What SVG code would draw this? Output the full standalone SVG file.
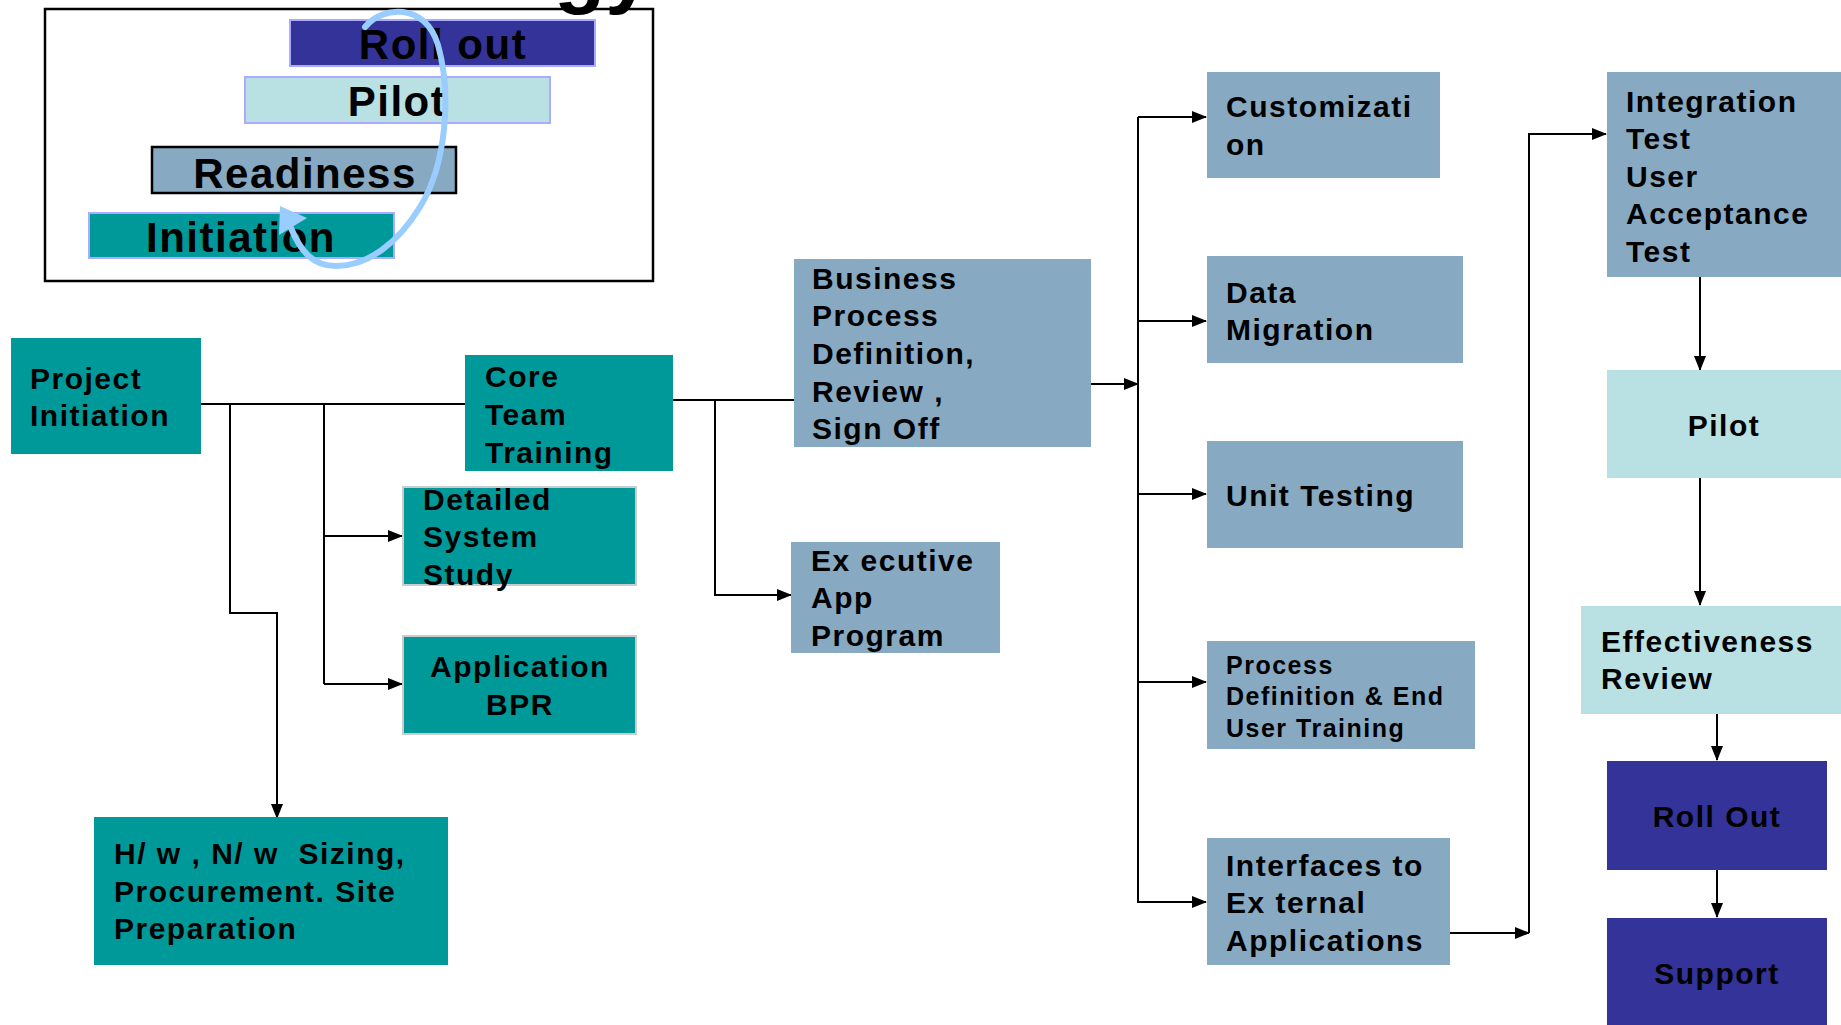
<svg xmlns="http://www.w3.org/2000/svg" width="1841" height="1025" viewBox="0 0 1841 1025">
<style>
.t{font-family:"Liberation Sans",Arial,Helvetica,sans-serif;font-weight:bold;font-size:30px;letter-spacing:1.5px;fill:#000;white-space:pre}
.s{font-size:25px}
.big{font-size:42px}
.c{text-anchor:middle}
.teal{fill:#009999}
.steel{fill:#87a9c2}
.light{fill:#b9e0e3}
.navy{fill:#333399}
.bar{stroke:#aaaaff;stroke-width:2}
.bord{stroke:#cccccc;stroke-width:2}
.ln{fill:none;stroke:#000;stroke-width:2}
.arr{marker-end:url(#ah)}
</style>
<defs>
<marker id="ah" markerUnits="userSpaceOnUse" markerWidth="15" markerHeight="12" refX="14" refY="6" orient="auto">
<path d="M0,0 L15,6 L0,12 z" fill="#000"/>
</marker>
</defs>
<rect width="1841" height="1025" fill="#fff"/>

<!-- title fragment -->
<text class="t" x="554" y="-2" style="font-size:84px;letter-spacing:0">gy</text>

<!-- inset phases diagram -->
<g id="phases">
<rect x="45" y="9" width="608" height="272" fill="none" stroke="#000" stroke-width="2.5"/>
<g id="bar-rollout"><rect class="navy bar" x="290" y="20" width="305" height="46"/><text class="t big c" x="443" y="59">Roll out</text></g>
<g id="bar-pilot"><rect class="light bar" x="245" y="77" width="305" height="46"/><text class="t big c" x="397" y="116">Pilot</text></g>
<g id="bar-readiness"><rect class="steel" x="152" y="147" width="304" height="46" stroke="#000" stroke-width="2.5"/><text class="t big c" x="305" y="188">Readiness</text></g>
<g id="bar-initiation"><rect class="teal bar" x="89" y="213" width="305" height="45"/><text class="t big c" x="241" y="252">Initiation</text></g>
<g id="cycle-arrow">
<path d="M365,27 C382,6 425,2 438,45 C452,95 446,165 420,207 C398,243 368,266 336,266 C312,266 300,250 291,228" fill="none" stroke="#99ccff" stroke-width="6" stroke-linecap="round"/>
<polygon points="280,206 307,218 279,235" fill="#99ccff"/>
</g>
</g>

<!-- connectors -->
<g id="connectors">
<path class="ln" d="M201,404 H465"/>
<path class="ln arr" d="M230,404 V613 H277 V818"/>
<path class="ln" d="M324,404 V684"/>
<path class="ln arr" d="M324,536 H402"/>
<path class="ln arr" d="M324,684 H402"/>
<path class="ln" d="M673,400 H818"/>
<path class="ln arr" d="M715,400 V595 H791"/>
<path class="ln arr" d="M1091,384 H1138"/>
<path class="ln" d="M1138,117 V903"/>
<path class="ln arr" d="M1138,117 H1206"/>
<path class="ln arr" d="M1138,321 H1206"/>
<path class="ln arr" d="M1138,494 H1206"/>
<path class="ln arr" d="M1138,682 H1206"/>
<path class="ln arr" d="M1138,902 H1206"/>
<path class="ln arr" d="M1450,933 H1529"/>
<path class="ln arr" d="M1529,933 V134 H1606"/>
<path class="ln arr" d="M1700,277 V370"/>
<path class="ln arr" d="M1700,478 V605"/>
<path class="ln arr" d="M1717,714 V760"/>
<path class="ln arr" d="M1717,870 V917"/>
</g>

<!-- nodes -->
<g id="project-initiation"><rect class="teal" x="11" y="338" width="190" height="116"/><text class="t" x="30" y="389">Project</text><text class="t" x="30" y="426">Initiation</text></g>
<g id="core-team-training"><rect class="teal" x="465" y="355" width="208" height="116"/><text class="t" x="485" y="387">Core</text><text class="t" x="485" y="425">Team</text><text class="t" x="485" y="463">Training</text></g>
<g id="detailed-system-study"><rect class="teal bord" x="403" y="487" width="233" height="98"/><text class="t" x="423" y="510">Detailed</text><text class="t" x="423" y="547">System</text><text class="t" x="423" y="585">Study</text></g>
<g id="application-bpr"><rect class="teal bord" x="403" y="636" width="233" height="98"/><text class="t c" x="520" y="677">Application</text><text class="t c" x="520" y="715">BPR</text></g>
<g id="hw-sizing"><rect class="teal" x="94" y="817" width="354" height="148"/><text class="t" x="114" y="864">H/ w , N/ w  Sizing,</text><text class="t" x="114" y="902">Procurement. Site</text><text class="t" x="114" y="939">Preparation</text></g>
<g id="business-process"><rect class="steel" x="794" y="259" width="297" height="188"/><text class="t" x="812" y="289">Business</text><text class="t" x="812" y="326">Process</text><text class="t" x="812" y="364">Definition,</text><text class="t" x="812" y="402">Review ,</text><text class="t" x="812" y="439">Sign Off</text></g>
<g id="executive-app"><rect class="steel" x="791" y="542" width="209" height="111"/><text class="t" x="811" y="571">Ex ecutive</text><text class="t" x="811" y="608">App</text><text class="t" x="811" y="646">Program</text></g>
<g id="customization"><rect class="steel" x="1207" y="72" width="233" height="106"/><text class="t" x="1226" y="117">Customizati</text><text class="t" x="1226" y="155">on</text></g>
<g id="data-migration"><rect class="steel" x="1207" y="256" width="256" height="107"/><text class="t" x="1226" y="303">Data</text><text class="t" x="1226" y="340">Migration</text></g>
<g id="unit-testing"><rect class="steel" x="1207" y="441" width="256" height="107"/><text class="t" x="1226" y="506">Unit Testing</text></g>
<g id="process-definition"><rect class="steel" x="1207" y="641" width="268" height="108"/><text class="t s" x="1226" y="674">Process</text><text class="t s" x="1226" y="705">Definition &amp; End</text><text class="t s" x="1226" y="737">User Training</text></g>
<g id="interfaces"><rect class="steel" x="1207" y="838" width="243" height="127"/><text class="t" x="1226" y="876">Interfaces to</text><text class="t" x="1226" y="913">Ex ternal</text><text class="t" x="1226" y="951">Applications</text></g>
<g id="integration-test"><rect class="steel" x="1607" y="72" width="240" height="205"/><text class="t" x="1626" y="112">Integration</text><text class="t" x="1626" y="149">Test</text><text class="t" x="1626" y="187">User</text><text class="t" x="1626" y="224">Acceptance</text><text class="t" x="1626" y="262">Test</text></g>
<g id="pilot"><rect class="light" x="1607" y="370" width="240" height="108"/><text class="t c" x="1724" y="436">Pilot</text></g>
<g id="effectiveness-review"><rect class="light" x="1581" y="606" width="266" height="108"/><text class="t" x="1601" y="652">Effectiveness</text><text class="t" x="1601" y="689">Review</text></g>
<g id="roll-out"><rect class="navy" x="1607" y="761" width="220" height="109"/><text class="t c" x="1717" y="827">Roll Out</text></g>
<g id="support"><rect class="navy" x="1607" y="918" width="220" height="110"/><text class="t c" x="1717" y="984">Support</text></g>
</svg>
